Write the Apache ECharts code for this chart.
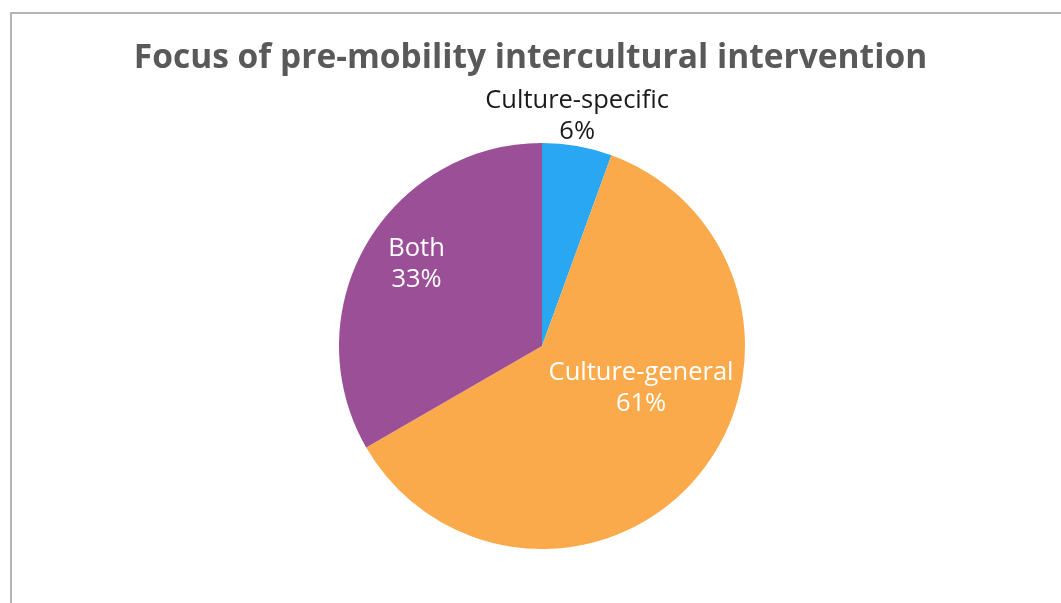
<!DOCTYPE html>
<html>
<head>
<meta charset="utf-8">
<script src="https://cdn.jsdelivr.net/npm/echarts@6/dist/echarts.min.js"></script>
<style>
  html, body { margin: 0; padding: 0; background: #fff; }
  #frame { position: absolute; left: 10px; top: 12px; width: 1100px; height: 700px;
           border: 2px solid #b4b4b4; box-sizing: border-box; }
  #chart { position: absolute; left: 0; top: 0; width: 1061px; height: 603px; }
</style>
</head>
<body>
<div id="frame"></div>
<div id="chart"></div>
<script>
// Focus of pre-mobility intercultural intervention: number of interventions per focus
const categories = ['Culture-specific', 'Culture-general', 'Both'];
const counts = [2, 22, 12];
const colors = ['#2aa7f2', '#fbaa4b', '#9b4f96'];
const labelColors = ['#1a1a1a', '#ffffff', '#ffffff'];
const labelOffsets = [[17, -127], [19, -25], [-35, -30]];

const chart = echarts.init(document.getElementById('chart'), null, { renderer: 'canvas' });
const total = counts.reduce((a, b) => a + b, 0);

chart.setOption({
  animation: false,
  title: {
    text: 'Focus of pre-mobility intercultural intervention',
    left: 'center',
    top: 36,
    textStyle: {
      fontFamily: 'Open Sans',
      fontWeight: 'bold',
      fontSize: 33.5,
      color: '#595959'
    }
  },
  series: [{
    type: 'pie',
    center: [542, 346],
    radius: 203,
    startAngle: 90,
    clockwise: true,
    avoidLabelOverlap: false,
    labelLine: { show: false },
    itemStyle: { borderWidth: 0 },
    data: categories.map((name, i) => ({
      name,
      value: counts[i],
      itemStyle: { color: colors[i] },
      label: {
        color: labelColors[i],
        offset: labelOffsets[i]
      }
    })),
    label: {
      show: true,
      position: 'inside',
      fontFamily: 'Open Sans',
      fontSize: 25.5,
      lineHeight: 31,
      formatter: p => p.name + '\n' + Math.round(p.value / total * 100) + '%'
    }
  }]
});
</script>
</body>
</html>
